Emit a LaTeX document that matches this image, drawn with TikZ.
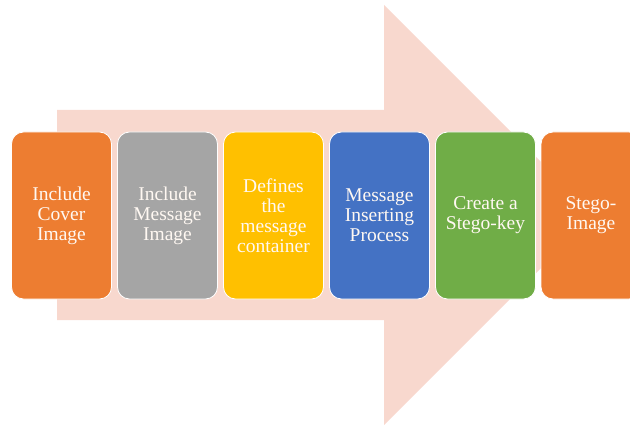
\documentclass[tikz,border=0pt]{standalone}
\usepackage{fontspec}
\setmainfont{Liberation Serif}
\definecolor{arrowpink}{HTML}{F8D8CE}
\definecolor{c1}{HTML}{ED7D31}
\definecolor{c2}{HTML}{A5A5A5}
\definecolor{c3}{HTML}{FFC000}
\definecolor{c4}{HTML}{4472C4}
\definecolor{c5}{HTML}{70AD47}
\definecolor{txt}{HTML}{FFF8F2}
\tikzset{
  stepbox/.style={draw=white, line width=0.8pt, rounded corners=12pt,
    minimum width=100pt, minimum height=167pt, inner sep=0pt,
    text=txt, align=center,
    font=\fontsize{19.5pt}{20pt}\selectfont},
}
\begin{document}
\begin{tikzpicture}[x=1pt,y=-1pt]
\useasboundingbox (0,0) rectangle (630,425);
\clip (0,0) rectangle (630,425);
% big background arrow
\fill[arrowpink] (57,110) -- (384,110) -- (384,5) -- (594,215) -- (384,425) -- (384,320) -- (57,320) -- cycle;
% step boxes
\node[stepbox, fill=c1] (b1) at (61.5,215.5) {Include\\Cover\\Image};
\node[stepbox, fill=c2] (b2) at (167.5,215.5) {Include\\Message\\Image};
\node[stepbox, fill=c3] (b3) at (273.5,215.5) {Defines\\the\\message\\container};
\node[stepbox, fill=c4] (b4) at (379.5,215.5) {Message\\Inserting\\Process};
\node[stepbox, fill=c5] (b5) at (485.5,215.5) {Create a\\Stego-key};
\node[stepbox, fill=c1] (b6) at (591,215.5) {Stego-\\Image};
\end{tikzpicture}
\end{document}
